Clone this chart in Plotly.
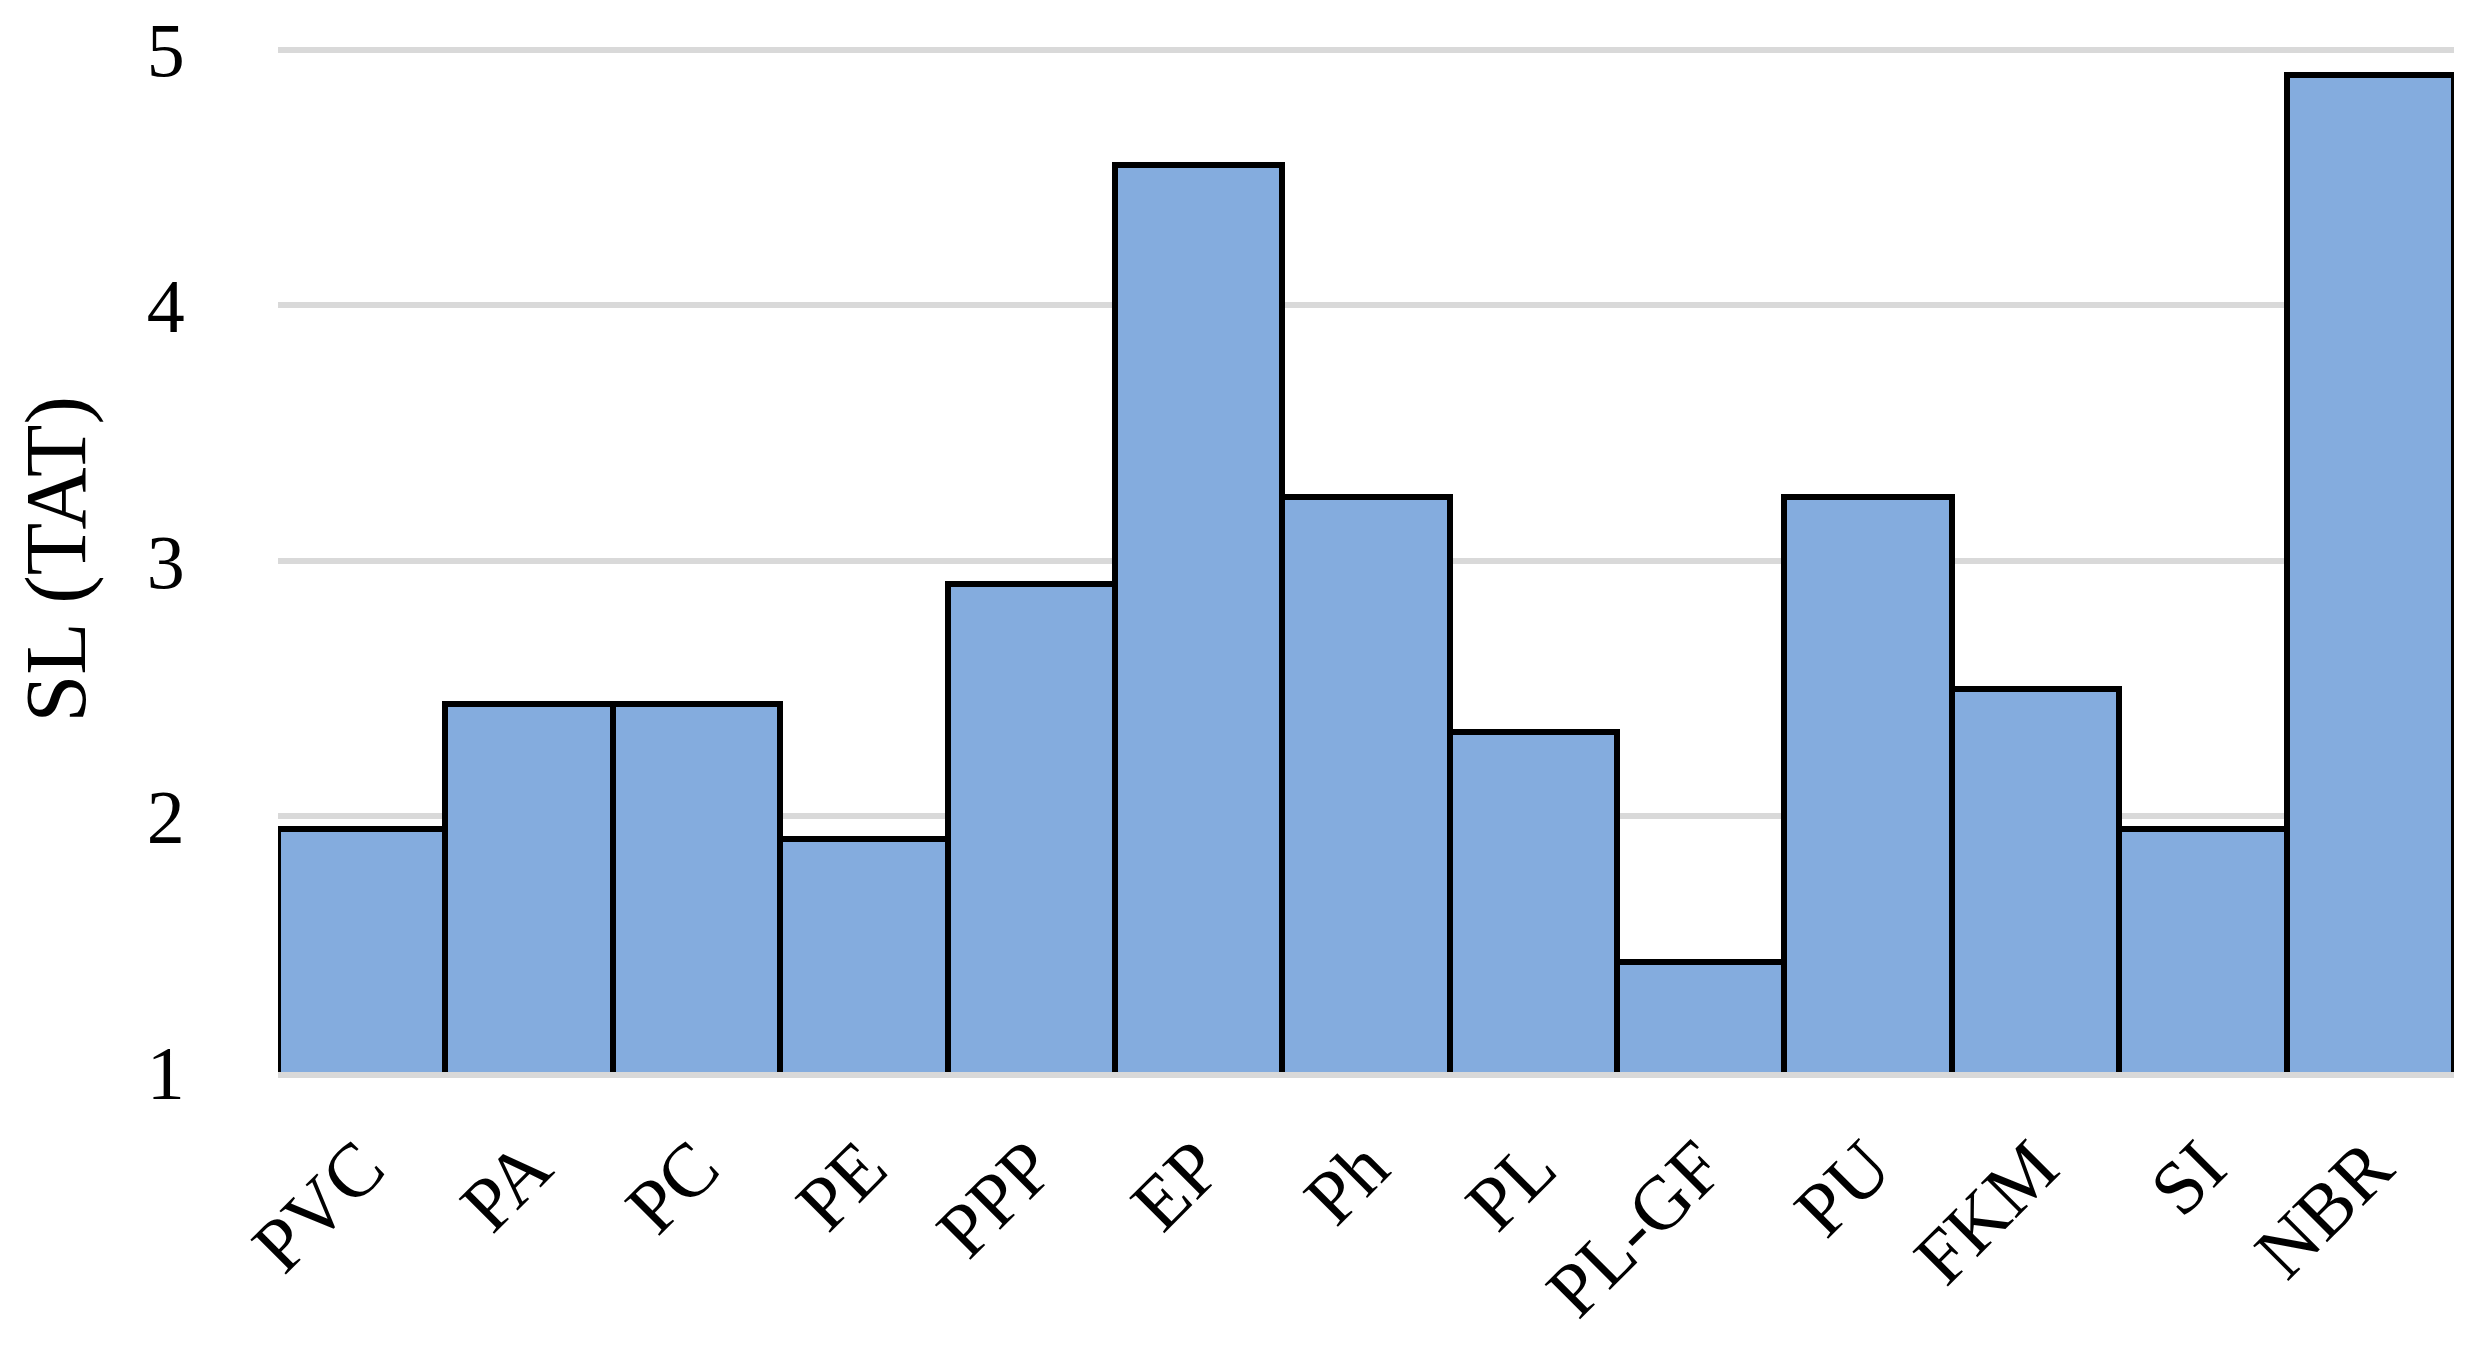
import plotly.graph_objects as go

materials = ["PVC", "PA", "PC", "PE", "PPP", "EP", "Ph", "PL", "PL-GF", "PU", "FKM", "SI", "NBR"]
sl_tat = [1.95, 2.44, 2.44, 1.91, 2.91, 4.55, 3.25, 2.33, 1.43, 3.25, 2.50, 1.95, 4.90]
y_ticks = [1, 2, 3, 4, 5]

FONT = "Liberation Serif"

fig = go.Figure(go.Bar(
    x=materials, y=sl_tat,
    marker=dict(color="#84ACDE", line=dict(color="black", width=6)),
))

# the page body adds an 8px margin, so the figure is sized to fit inside it
fig.update_layout(
    width=2466, height=1332,
    margin=dict(l=270, r=20, t=38, b=268),
    plot_bgcolor="white", paper_bgcolor="white",
    bargap=0, showlegend=False,
    font=dict(family=FONT, size=76, color="black"),
    annotations=[dict(
        text="SL (TAT)", xref="paper", yref="paper", x=-0.1018, y=0.5,
        xanchor="center", yanchor="middle", textangle=-90, showarrow=False,
        font=dict(family=FONT, size=86, color="black"),
    )],
)
fig.update_yaxes(
    range=[1, 5.015], tickvals=y_ticks, showgrid=True, gridcolor="#D9D9D9", gridwidth=6,
    zeroline=False, showline=False, automargin=False,
    ticks="outside", ticklen=77, tickcolor="rgba(0,0,0,0)",
)
fig.update_xaxes(
    tickangle=-45, showline=True, linecolor="#D9D9D9", linewidth=6, automargin=False,
    ticks="outside", ticklen=14, tickcolor="rgba(0,0,0,0)",
)

fig.write_html("out.html")
